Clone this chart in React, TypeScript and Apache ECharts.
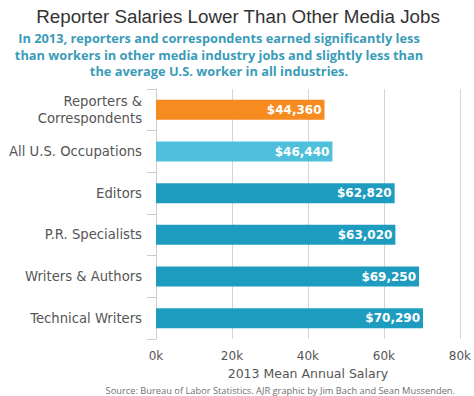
import React, { useEffect, useRef } from "react";
import * as echarts from "echarts";

const categories = [
  "Reporters &\nCorrespondents",
  "All U.S. Occupations",
  "Editors",
  "P.R. Specialists",
  "Writers & Authors",
  "Technical Writers",
];
const salaries = [44360, 46440, 62820, 63020, 69250, 70290];
const barColors = ["#F68B1F", "#4EC0DC", "#1E9CC0", "#1E9CC0", "#1E9CC0", "#1E9CC0"];
const xTicks = [0, 20000, 40000, 60000, 80000];

export default function App() {
  const ref = useRef<HTMLDivElement>(null);
  useEffect(() => {
    if (!ref.current) return;
    const chart = echarts.init(ref.current, undefined, { renderer: "svg" });
    chart.setOption({
      animation: false,
      backgroundColor: "#fff",
      title: [
        {
          text: "Reporter Salaries Lower Than Other Media Jobs",
          left: 233,
          top: 2,
          textAlign: "center",
          textStyle: { fontFamily: "Liberation Sans", fontSize: 18.8, fontWeight: "normal", color: "#333" },
        },
        {
          text: "In 2013, reporters and correspondents earned significantly less\nthan workers in other media industry jobs and slightly less than\nthe average U.S. worker in all industries.",
          left: 214,
          top: 25,
          textAlign: "center",
          textStyle: { fontFamily: "Open Sans", fontSize: 12.8, fontWeight: "bold", color: "#3A9CB8", lineHeight: 16.5, align: "center" },
        },
        {
          text: "Source: Bureau of Labor Statistics. AJR graphic by Jim Bach and Sean Mussenden.",
          right: 14,
          top: 379,
          textStyle: { fontFamily: "Open Sans", fontSize: 9.3, fontWeight: "normal", color: "#707070", lineHeight: 12 },
        },
      ],
      grid: { left: 156, right: 14, top: 89, bottom: 57, containLabel: false },
      xAxis: {
        type: "value",
        min: xTicks[0],
        max: xTicks[xTicks.length - 1],
        interval: xTicks[1] - xTicks[0],
        axisLine: { show: false },
        axisTick: { show: false },
        axisLabel: {
          formatter: (v: number) => v / 1000 + "k",
          fontFamily: "DejaVu Sans",
          fontSize: 12,
          color: "#555",
          margin: 11,
        },
        splitLine: { show: true, lineStyle: { color: "#d4d4d4", width: 1 } },
        name: "2013 Mean Annual Salary",
        nameLocation: "middle",
        nameGap: 28,
        nameTextStyle: { fontFamily: "DejaVu Sans", fontSize: 12.5, color: "#555" },
      },
      yAxis: {
        type: "category",
        data: categories,
        inverse: true,
        axisLine: { show: true, lineStyle: { color: "#ccc" } },
        axisTick: { show: true, length: 9, lineStyle: { color: "#ccc" } },
        axisLabel: {
          fontFamily: "DejaVu Sans",
          fontSize: 13.2,
          color: "#555",
          margin: 14,
          lineHeight: 17,
        },
      },
      series: [
        {
          type: "bar",
          data: salaries.map((v, i) => ({ value: v, itemStyle: { color: barColors[i] } })),
          barWidth: 20,
          label: {
            show: true,
            position: "insideRight",
            distance: 3,
            formatter: (p: any) => "$" + p.value.toLocaleString("en-US"),
            fontFamily: "DejaVu Sans",
            fontSize: 12,
            fontWeight: "bold",
            color: "#fff",
          },
        },
      ],
    });
    return () => chart.dispose();
  }, []);
  return <div ref={ref} style={{ width: 474, height: 396, position: "absolute", left: 0, top: 0 }} />;
}
